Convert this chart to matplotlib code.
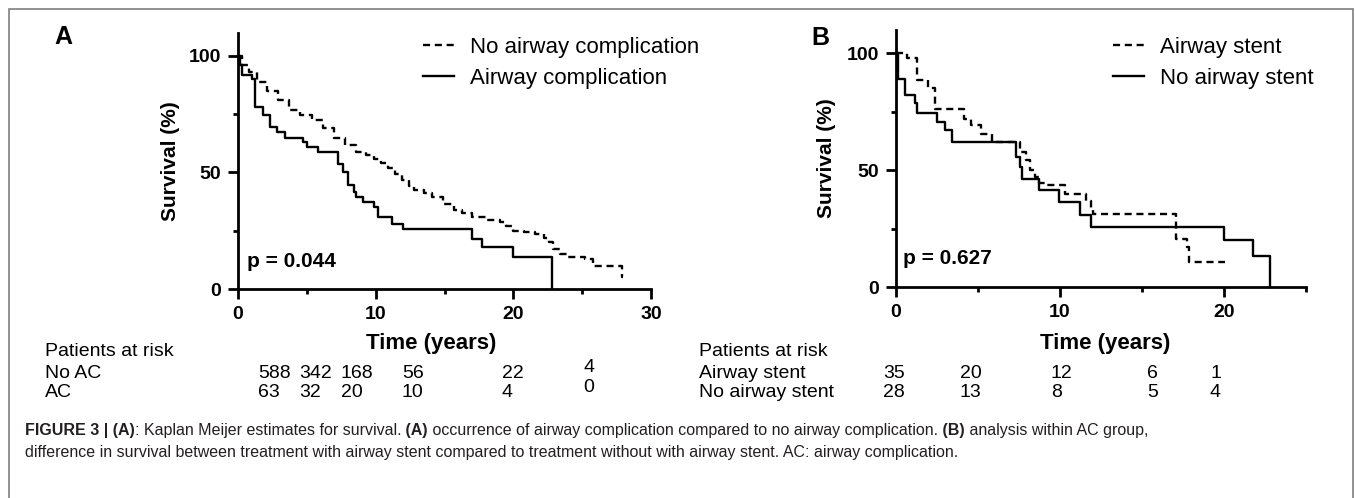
import matplotlib
matplotlib.use("Agg")
import matplotlib.pyplot as plt
from matplotlib.patches import Rectangle

plt.rcParams['font.family'] = ['Liberation Sans', 'DejaVu Sans']

# ---- panel A: airway complication vs none ----
noac_t = [0, 0.3, 0.8, 1.4, 2.1, 2.9, 3.7, 4.5, 5.4, 6.2, 7.0, 7.8, 8.6, 9.3, 9.9,
          10.4, 10.9, 11.4, 11.9, 12.4, 12.8, 13.5, 14.1, 14.9, 15.7, 16.3, 17.0,
          18.0, 19.0, 19.5, 20.0, 20.8, 21.6, 22.2, 22.6, 22.9, 23.4, 23.9, 25.2,
          25.8, 27.9, 28.0]
noac_s = [100, 96, 93.3, 89, 85, 81, 77, 74.5, 72.5, 69, 65, 62, 59, 57.5, 56,
          54, 52, 49.5, 46.6, 44, 42.3, 41, 39.5, 36.5, 33.7, 32.5, 30.8,
          29.5, 28.7, 27, 25, 24.3, 23.7, 22, 20, 17.2, 15, 13.6, 12.9,
          10, 5, 5]
ac_t = [0, 0.15, 0.3, 1.0, 1.2, 1.8, 2.3, 2.8, 3.4, 4.7, 5.0, 5.8, 7.3, 7.6, 8.0,
        8.4, 8.6, 9.1, 9.9, 10.2, 11.2, 12.0, 17.0, 17.7, 20.0, 22.8]
ac_s = [100, 96, 92, 90, 78, 74.6, 69.6, 67.4, 64.6, 63, 61, 58.8, 53.8, 50, 44.5,
        41.6, 39.5, 37.3, 35, 31, 28, 25.8, 21.5, 18, 13.6, 0]

# ---- panel B: within AC group, stent vs no stent ----
stent_t = [0, 0.65, 1.3, 1.96, 2.35, 4.17, 4.56, 5.2, 5.87, 7.56, 7.95, 8.2, 8.47,
           8.74, 9.13, 10.3, 11.6, 11.86, 12.0, 17.08, 17.73, 17.86, 20.08]
stent_s = [100, 97.9, 88.6, 85, 76.4, 72, 69.3, 65.7, 62, 57.9, 54.3, 50, 47,
           44.3, 43.6, 40, 37, 33.6, 31.4, 20.7, 17, 10.7, 10.7]
nostent_t = [0, 0.1, 0.52, 1.17, 1.3, 2.48, 3.0, 3.39, 7.3, 7.56, 7.69, 8.74, 9.91,
             11.2, 11.86, 20.03, 21.77, 22.8]
nostent_s = [100, 89, 82, 78.6, 74.3, 70.7, 67, 62, 55.7, 51.4, 46.4, 41.4, 36.4,
             30.7, 25.7, 20, 13.1, 0]

# patients at risk tables
risk_rows_a = ['No AC', 'AC']
risk_a = [['588', '342', '168', '56', '22', '4'],
          ['63', '32', '20', '10', '4', '0']]
risk_rows_b = ['Airway stent', 'No airway stent']
risk_b = [['35', '20', '12', '6', '1'],
          ['28', '13', '8', '5', '4']]

W, H = 1355, 498
fig = plt.figure(figsize=(W / 100, H / 100), dpi=100)


def fx(px):
    return px / W


def fy(py):
    return 1 - py / H


def style_axis(ax, xmax, xmaj, xmin):
    ax.set_xlim(0, xmax)
    ax.set_ylim(0, 110)
    for s in ['top', 'right']:
        ax.spines[s].set_visible(False)
    for s in ['left', 'bottom']:
        ax.spines[s].set_linewidth(2.0)
    ax.set_xticks(xmaj)
    ax.set_xticks(xmin, minor=True)
    ax.set_yticks([0, 50, 100])
    ax.set_yticks([25, 75], minor=True)
    ax.tick_params(which='major', direction='out', length=7, width=2, pad=5,
                   labelsize=14)
    ax.tick_params(which='minor', direction='out', length=3.6, width=2)
    for lab in ax.get_xticklabels() + ax.get_yticklabels():
        lab.set_fontweight('bold')
    ax.set_ylabel('Survival (%)', fontsize=15, fontweight='bold')


dash = (0, (3, 2))
lw = 1.7
tsize = 14

# panel A
axA = fig.add_axes([fx(238), fy(289), fx(651 - 238), (289 - 32.7) / H])
axA.plot(noac_t, noac_s, drawstyle='steps-post', color='black', lw=lw,
         linestyle=dash, label='No airway complication', clip_on=False)
axA.plot(ac_t, ac_s, drawstyle='steps-post', color='black', lw=lw,
         label='Airway complication', clip_on=False)
style_axis(axA, 30, [0, 10, 20, 30], [5, 15, 25])
axA.yaxis.set_label_coords(-0.14, 0.5)
axA.text(0.65, 11.6, 'p = 0.044', fontsize=15, fontweight='bold', va='center')
axA.legend(loc='upper left', bbox_to_anchor=(fx(423), fy(37)),
           bbox_transform=fig.transFigure, frameon=False, fontsize=16,
           handlelength=1.4, handletextpad=0.7, labelspacing=0.45,
           borderpad=0, borderaxespad=0)

# panel B
axB = fig.add_axes([fx(896), fy(287), fx(1306 - 896), (287 - 30) / H])
axB.plot(stent_t, stent_s, drawstyle='steps-post', color='black', lw=lw,
         linestyle=dash, label='Airway stent', clip_on=False)
axB.plot(nostent_t, nostent_s, drawstyle='steps-post', color='black', lw=lw,
         label='No airway stent', clip_on=False)
style_axis(axB, 25, [0, 10, 20], [5, 15, 25])
axB.yaxis.set_label_coords(-0.147, 0.5)
axB.text(0.43, 12.4, 'p = 0.627', fontsize=15, fontweight='bold', va='center')
axB.legend(loc='upper left', bbox_to_anchor=(fx(1113), fy(37)),
           bbox_transform=fig.transFigure, frameon=False, fontsize=16,
           handlelength=1.4, handletextpad=0.7, labelspacing=0.45,
           borderpad=0, borderaxespad=0)

# panel letters and x labels
fig.text(fx(63), fy(37), 'A', fontsize=18, fontweight='bold', ha='center', va='center')
fig.text(fx(820), fy(38), 'B', fontsize=18, fontweight='bold', ha='center', va='center')
fig.text(fx(431), fy(343), 'Time (years)', fontsize=16, fontweight='bold',
         ha='center', va='center')
fig.text(fx(1105), fy(343), 'Time (years)', fontsize=16, fontweight='bold',
         ha='center', va='center')

# risk tables
row_y = [373, 392]
fig.text(fx(45), fy(351), 'Patients at risk', fontsize=tsize, va='center')
cols_a = [258, 299, 341, 402, 502, 583]
for i, name in enumerate(risk_rows_a):
    fig.text(fx(45), fy(row_y[i]), name, fontsize=tsize, va='center')
    for j, val in enumerate(risk_a[i]):
        dy = -5 if j == len(cols_a) - 1 else 0
        fig.text(fx(cols_a[j]), fy(row_y[i] + dy), val, fontsize=tsize, va='center')

fig.text(fx(699), fy(351), 'Patients at risk', fontsize=tsize, va='center')
cols_b = [883, 960, 1051, 1147, 1210]
for i, name in enumerate(risk_rows_b):
    fig.text(fx(699), fy(row_y[i]), name, fontsize=tsize, va='center')
    for j, val in enumerate(risk_b[i]):
        fig.text(fx(cols_b[j]), fy(row_y[i]), val, fontsize=tsize, va='center')

# caption, mixed bold / regular runs
cap_size = 11.5
renderer = fig.canvas.get_renderer()


def rich_line(x, y, pieces):
    for s, w in pieces:
        t = fig.text(x, y, s, fontsize=cap_size, fontweight=w, va='center',
                     color='#231f20')
        x = t.get_window_extent(renderer=renderer).x1 / fig.bbox.width


rich_line(fx(25), fy(430), [
    ('FIGURE 3 | (A)', 'bold'),
    (': Kaplan Meijer estimates for survival.', 'normal'),
    (' (A)', 'bold'),
    (' occurrence of airway complication compared to no airway complication.', 'normal'),
    (' (B)', 'bold'),
    (' analysis within AC group,', 'normal')])
rich_line(fx(25), fy(452), [
    ('difference in survival between treatment with airway stent compared to '
     'treatment without with airway stent. AC: airway complication.', 'normal')])

# outer frame
fig.add_artist(Rectangle((fx(9), fy(520)), fx(1353 - 9), (520 - 9) / H,
                         transform=fig.transFigure, fill=False,
                         edgecolor='#7f7f7f', lw=1.2))

fig.savefig('out.png', dpi=100)
